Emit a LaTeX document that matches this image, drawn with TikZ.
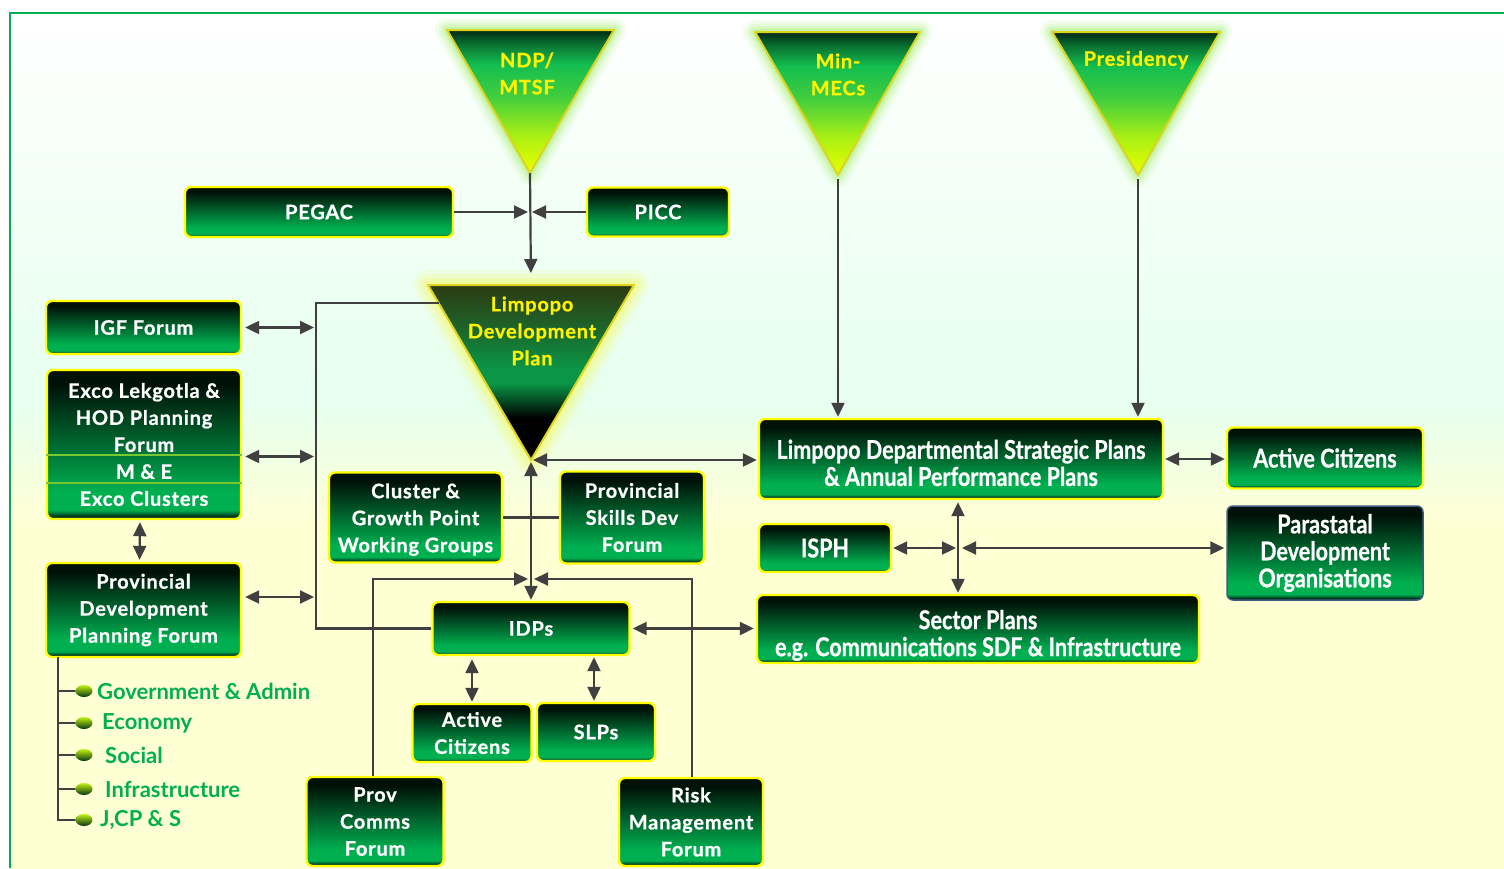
\documentclass[tikz,border=0pt]{standalone}
\usepackage{fontspec}
\setmainfont{Lato}
\newfontfamily\boxfont{Lato}[LetterSpace=4,FakeBold=0.8]
\newfontfamily\latocond{Lato}[FakeStretch=0.83,FakeBold=0.6]
\usetikzlibrary{arrows.meta,shapes.geometric}

\definecolor{framegreen}{RGB}{0,176,80}
\definecolor{bxtop}{RGB}{0,18,8}
\definecolor{bxgreen}{RGB}{0,176,80}
\definecolor{bxdeep}{RGB}{0,55,28}
\definecolor{bxline}{RGB}{255,255,0}
\definecolor{connclr}{RGB}{64,64,64}
\definecolor{bgyellow}{RGB}{255,255,212}
\definecolor{bgmint}{RGB}{230,255,238}
\definecolor{trtop}{RGB}{0,40,20}
\definecolor{trgreen}{RGB}{20,190,80}
\definecolor{trlime}{RGB}{170,240,20}
\definecolor{trtip}{RGB}{235,255,0}
\definecolor{ldptop}{RGB}{45,58,18}
\definecolor{ldpmid}{RGB}{10,150,70}
\definecolor{glowgreen}{RGB}{170,240,120}
\definecolor{glowyellow}{RGB}{245,250,100}
\definecolor{divgreen}{RGB}{120,200,50}
\definecolor{parablue}{RGB}{60,90,130}

\pgfdeclareverticalshading{boxshade}{100bp}{color(0bp)=(bxdeep); color(26bp)=(bxdeep); color(28bp)=(bxgreen); color(34bp)=(bxgreen); color(70bp)=(bxtop); color(100bp)=(bxtop)}
\pgfdeclareverticalshading{trishade}{100bp}{color(0bp)=(trtip); color(25bp)=(trtip); color(38bp)=(trlime); color(52bp)=(trgreen!70!trlime); color(63bp)=(trgreen); color(70bp)=(trgreen!50!trtop); color(75bp)=(trtop); color(100bp)=(trtop)}
\pgfdeclareverticalshading{ldpshade}{100bp}{color(0bp)=(black); color(25bp)=(black); color(37bp)=(black); color(47bp)=(ldpmid); color(51bp)=(ldpmid); color(62bp)=(ldpmid!50!ldptop); color(75bp)=(ldptop); color(100bp)=(ldptop)}
\pgfdeclareverticalshading{bgshade}{100bp}{color(0bp)=(bgyellow); color(45bp)=(bgyellow); color(52bp)=(bgmint); color(62bp)=(bgmint!60!white); color(75bp)=(white); color(100bp)=(white)}

\tikzset{
  gbox/.style={rectangle, rounded corners=6pt, draw=bxline, line width=2.4pt, shade, shading=boxshade, text=white, align=center, inner sep=0pt, font=\boxfont\bfseries\fontsize{20}{27}\selectfont},
  cbox/.style={gbox, font=\latocond\bfseries\fontsize{26}{27}\selectfont},
  tritext/.style={text=yellow, align=center, inner sep=0pt, font=\boxfont\bfseries\fontsize{20}{27}\selectfont},
  conn/.style={draw=connclr, line width=2.2pt},
  oneway/.style={conn, -{Triangle[length=14pt,width=13pt]}},
  twoway/.style={conn, {Triangle[length=14pt,width=13pt]}-{Triangle[length=14pt,width=13pt]}},
  listtext/.style={text=framegreen, anchor=west, inner sep=0pt, font=\bfseries\fontsize{22}{24}\selectfont},
  listdot/.style={ellipse, minimum width=17pt, minimum height=12pt, inner sep=0pt, top color=trtip!80!trgreen, bottom color=bxtop!80!trgreen},
  divline/.style={draw=divgreen, line width=1.2pt},
}

\begin{document}
\begin{tikzpicture}[x=1pt,y=-1pt]
    \useasboundingbox (0,0) rectangle (1504,868);

    % background and frame
    \fill[white] (0,0) rectangle (1504,868);
    \shade[shading=bgshade] (10,13) rectangle (1504,868);
    \draw[framegreen, line width=2.5pt] (10,868) -- (10,13) -- (1504,13);

    %Shape: Triangle NDP/MTSF
    \foreach \w/\o in {24/0.12,17/0.18,11/0.25,6/0.35}
      \draw[glowgreen, line width=\w pt, opacity=\o, line join=round] (447,30) -- (614,30) -- (530,173) -- cycle;
    \shade[shading=trishade] (447,30) -- (614,30) -- (530,173) -- cycle;
    \draw[yellow!85!black, line width=2pt, line join=round] (447,30) -- (614,30) -- (530,173) -- cycle;

    %Shape: Triangle Min-MECs
    \foreach \w/\o in {24/0.12,17/0.18,11/0.25,6/0.35}
      \draw[glowgreen, line width=\w pt, opacity=\o, line join=round] (755,32) -- (920,32) -- (838,175) -- cycle;
    \shade[shading=trishade] (755,32) -- (920,32) -- (838,175) -- cycle;
    \draw[yellow!85!black, line width=2pt, line join=round] (755,32) -- (920,32) -- (838,175) -- cycle;

    %Shape: Triangle Presidency
    \foreach \w/\o in {24/0.12,17/0.18,11/0.25,6/0.35}
      \draw[glowgreen, line width=\w pt, opacity=\o, line join=round] (1052,32) -- (1220,32) -- (1138,175) -- cycle;
    \shade[shading=trishade] (1052,32) -- (1220,32) -- (1138,175) -- cycle;
    \draw[yellow!85!black, line width=2pt, line join=round] (1052,32) -- (1220,32) -- (1138,175) -- cycle;

    %Shape: Triangle Limpopo Development Plan
    \foreach \w/\o in {30/0.12,22/0.18,14/0.25,7/0.35}
      \draw[glowyellow, line width=\w pt, opacity=\o, line join=round] (428,285) -- (634,285) -- (531,460) -- cycle;
    \shade[shading=ldpshade] (428,285) -- (634,285) -- (531,460) -- cycle;
    \draw[yellow!85!black, line width=2pt, line join=round] (428,285) -- (634,285) -- (531,460) -- cycle;

    % Text Node
    \node[tritext] (ndp) at (527,73.5) {NDP/\\MTSF};
    \node[tritext] (mec) at (838,74.5) {Min-\\MECs};
    \node[tritext] (pres) at (1136,60) {Presidency};
    \node[tritext] (ldp) at (532,331) {Limpopo\\Development\\Plan};

    \coordinate (ndp-tip) at (530,173);
    \coordinate (mec-tip) at (838,179);
    \coordinate (pres-tip) at (1138,179);
    \coordinate (ldp-top) at (531,285);
    \coordinate (ldp-tip) at (531,460);
    \coordinate (ldp-west) at (439,303);
    \coordinate (ndp-join) at (530,212);
    \coordinate (idp-join) at (531,579);
    \coordinate (bus-top) at (316,303);
    \coordinate (hub) at (958,548);
    \coordinate (list-top) at (58,657);

    %Shape: Rectangle boxes
    \node[gbox, minimum width=268pt, minimum height=50pt] (pegac) at (319,212) {PEGAC};
    \node[gbox, minimum width=142pt, minimum height=49pt] (picc) at (658,212) {PICC};
    \node[gbox, minimum width=195pt, minimum height=53pt] (igf) at (143.5,327.5) {IGF Forum};
    \node[gbox, minimum width=194pt, minimum height=149pt] (exco) at (144,444.5) {Exco Lekgotla \&\\HOD Planning\\Forum\\M \& E\\Exco Clusters};
    \node[gbox, minimum width=195pt, minimum height=94pt] (pdpf) at (143.5,610) {Provincial\\Development\\Planning Forum};
    \node[gbox, minimum width=173pt, minimum height=90pt] (cluster) at (415.5,517.5) {\rule{0pt}{19pt}Cluster \&\\Growth Point\\Working Groups};
    \node[gbox, minimum width=144pt, minimum height=92pt] (skills) at (632,517.5) {Provincial\\Skills Dev\\Forum};
    \node[gbox, minimum width=197pt, minimum height=53pt] (idps) at (531,628.5) {IDPs};
    \node[gbox, minimum width=119pt, minimum height=58pt] (actc) at (472,733) {Active\\Citizens};
    \node[gbox, minimum width=118pt, minimum height=58pt] (slps) at (596,732) {SLPs};
    \node[gbox, minimum width=137pt, minimum height=89pt] (comms) at (375,821.5) {Prov\\Comms\\Forum};
    \node[gbox, minimum width=144pt, minimum height=88pt] (risk) at (691,822) {Risk\\Management\\Forum};
    \node[cbox, minimum width=404pt, minimum height=80pt] (ldsp) at (961,459) {\rule{0pt}{27pt}Limpopo Departmental Strategic Plans\\\& Annual Performance Plans};
    \node[cbox, minimum width=196pt, minimum height=61pt] (actr) at (1325,458) {Active Citizens};
    \node[cbox, minimum width=132pt, minimum height=48pt] (isph) at (825,548) {ISPH};
    \node[cbox, draw=parablue, line width=1.5pt, minimum width=196pt, minimum height=94pt] (para) at (1325,553) {Parastatal\\Development\\Organisations};
    \node[cbox, minimum width=442pt, minimum height=68pt] (sector) at (978,629) {\rule{0pt}{32pt}Sector Plans\\e.g. Communications SDF \& Infrastructure};

    % dividers in Exco box
    \draw[divline] ([yshift=-10.5pt]exco.west) -- ([yshift=-10.5pt]exco.east);
    \draw[divline] ([yshift=-38.5pt]exco.west) -- ([yshift=-38.5pt]exco.east);

    %Straight Lines
    \draw[oneway, shorten >=12pt] (ndp-tip) -- (ldp-top);
    \draw[oneway, shorten >=2pt] (pegac.east) -- (pegac.east -| ndp-join);
    \draw[oneway, shorten >=2pt] (picc.west) -- (picc.west -| ndp-join);
    \draw[oneway, shorten >=1pt] (mec-tip) -- (mec-tip |- ldsp.north);
    \draw[oneway, shorten >=1pt] (pres-tip) -- (pres-tip |- ldsp.north);
    \draw[twoway, shorten <=2pt, shorten >=1pt] (ldp-tip) -- (ldp-tip -| ldsp.west);
    \draw[twoway, shorten <=2pt, shorten >=1pt] (ldp-tip) -- (idps.north);
    \draw[conn] (cluster.east) -- (skills.west);
    \draw[conn] (ldp-west) -- (bus-top) |- (idps.west);
    \draw[twoway, shorten <=3pt, shorten >=2pt] (igf.east) -- (igf.east -| bus-top);
    \draw[twoway, shorten <=3pt, shorten >=2pt] ([yshift=-12pt]exco.east) -- ([yshift=-12pt]exco.east -| bus-top);
    \draw[twoway, shorten <=3pt, shorten >=2pt] ([yshift=13pt]pdpf.east) -- ([yshift=13pt]pdpf.east -| bus-top);
    \draw[twoway, shorten <=2pt, shorten >=2pt] ([xshift=-4pt]exco.south) -- ([xshift=-4pt]pdpf.north);
    \draw[oneway, shorten >=3pt] ([xshift=-2pt]comms.north) |- (idp-join);
    \draw[oneway, shorten >=3pt] ([xshift=1pt]risk.north) |- (idp-join);
    \draw[twoway, shorten <=3pt, shorten >=1pt] (actc.north |- idps.south) -- (actc.north);
    \draw[twoway, shorten <=1pt, shorten >=1pt] ([xshift=-2pt]slps.north |- idps.south) -- ([xshift=-2pt]slps.north);
    \draw[twoway, shorten <=2pt, shorten >=2pt] (idps.east) -- (idps.east -| sector.west);
    \draw[twoway, shorten <=2pt, shorten >=1pt] (hub |- ldsp.south) -- (hub |- sector.north);
    \draw[twoway, shorten <=1pt, shorten >=2pt] (isph.east) -- (hub);
    \draw[twoway, shorten <=4pt, shorten >=2pt] (hub) -- (hub -| para.west);
    \draw[twoway, shorten <=1pt, shorten >=1pt] (ldsp.east) -- (ldsp.east -| actr.west);

    % bullet list
    \node[listdot] (b1) at (84,691) {};
    \node[listdot] (b2) at (84,723) {};
    \node[listdot] (b3) at (84,755) {};
    \node[listdot] (b4) at (84,789) {};
    \node[listdot] (b5) at (84,820) {};
    \draw[conn] (list-top) |- (b5.west);
    \foreach \b in {b1,b2,b3,b4}
      \draw[conn] (\b.west -| list-top) -- (\b.west);
    \node[listtext] (gov) at (97,691) {Government \& Admin};
    \node[listtext] (eco) at (102,723) {Economy};
    \node[listtext] (soc) at (105,755) {Social};
    \node[listtext] (inf) at (105,789) {Infrastructure};
    \node[listtext] (jcps) at (100,820) {J,CP \& S};

\end{tikzpicture}
\end{document}
